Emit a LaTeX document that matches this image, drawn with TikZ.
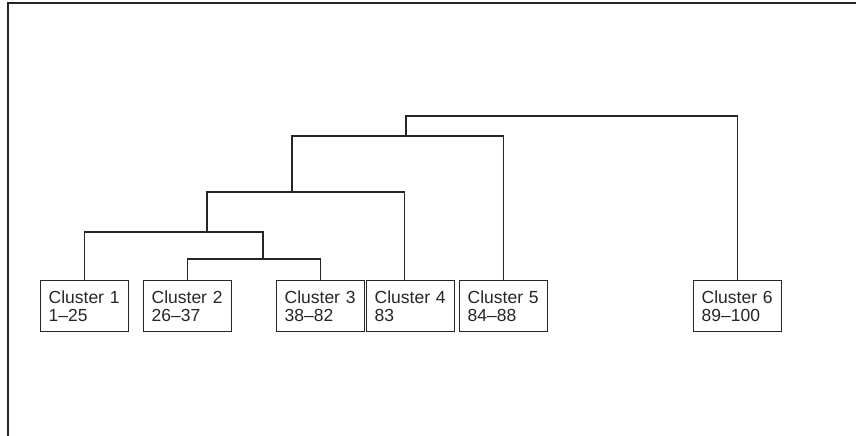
\documentclass[tikz,border=0pt]{standalone}
\usepackage{fontspec}
\setmainfont{Liberation Sans}
\begin{document}
\begin{tikzpicture}[x=1pt,y=-1pt,
  ln/.style={line width=1.3pt,draw=black!85},
  cbox/.style={ln,rectangle,anchor=north west,minimum width=88pt,minimum height=51pt,
    text width=72pt,inner xsep=8pt,inner ysep=0pt,align=left,
    font=\fontsize{17.5}{18.5}\selectfont,text=black!85}]
\useasboundingbox (0,0) rectangle (856,436);
\draw[ln] (7,3) -- (856,3);
\draw[ln] (8,3) -- (8,436);
\node[cbox] (c1) at (40,280) {Cluster 1\\1--25};
\node[cbox] (c2) at (143,280) {Cluster 2\\26--37};
\node[cbox] (c3) at (276,280) {Cluster 3\\38--82};
\node[cbox] (c4) at (366,280) {Cluster 4\\83};
\node[cbox] (c5) at (459,280) {Cluster 5\\84--88};
\node[cbox] (c6) at (693,280) {Cluster 6\\89--100};
% merges
\coordinate (m23) at (263,259);
\coordinate (m123) at (207,232);
\coordinate (m1234) at (292,192);
\coordinate (m12345) at (406,136);
\coordinate (top) at (406,116);
\draw[ln] (c2.north) -- (c2.north |- m23) -- (c3.north |- m23) -- (c3.north);
\draw[ln] (c1.north) -- (c1.north |- m123) -- (m23 |- m123) -- (m23);
\draw[ln] (m123) -- (m123 |- m1234) -- ([xshift=-6pt]c4.north |- m1234) -- ([xshift=-6pt]c4.north);
\draw[ln] (m1234) -- (m1234 |- m12345) -- (c5.north |- m12345) -- (c5.north);
\draw[ln] (m12345) -- (top) -- (c6.north |- top) -- (c6.north);
\end{tikzpicture}
\end{document}
